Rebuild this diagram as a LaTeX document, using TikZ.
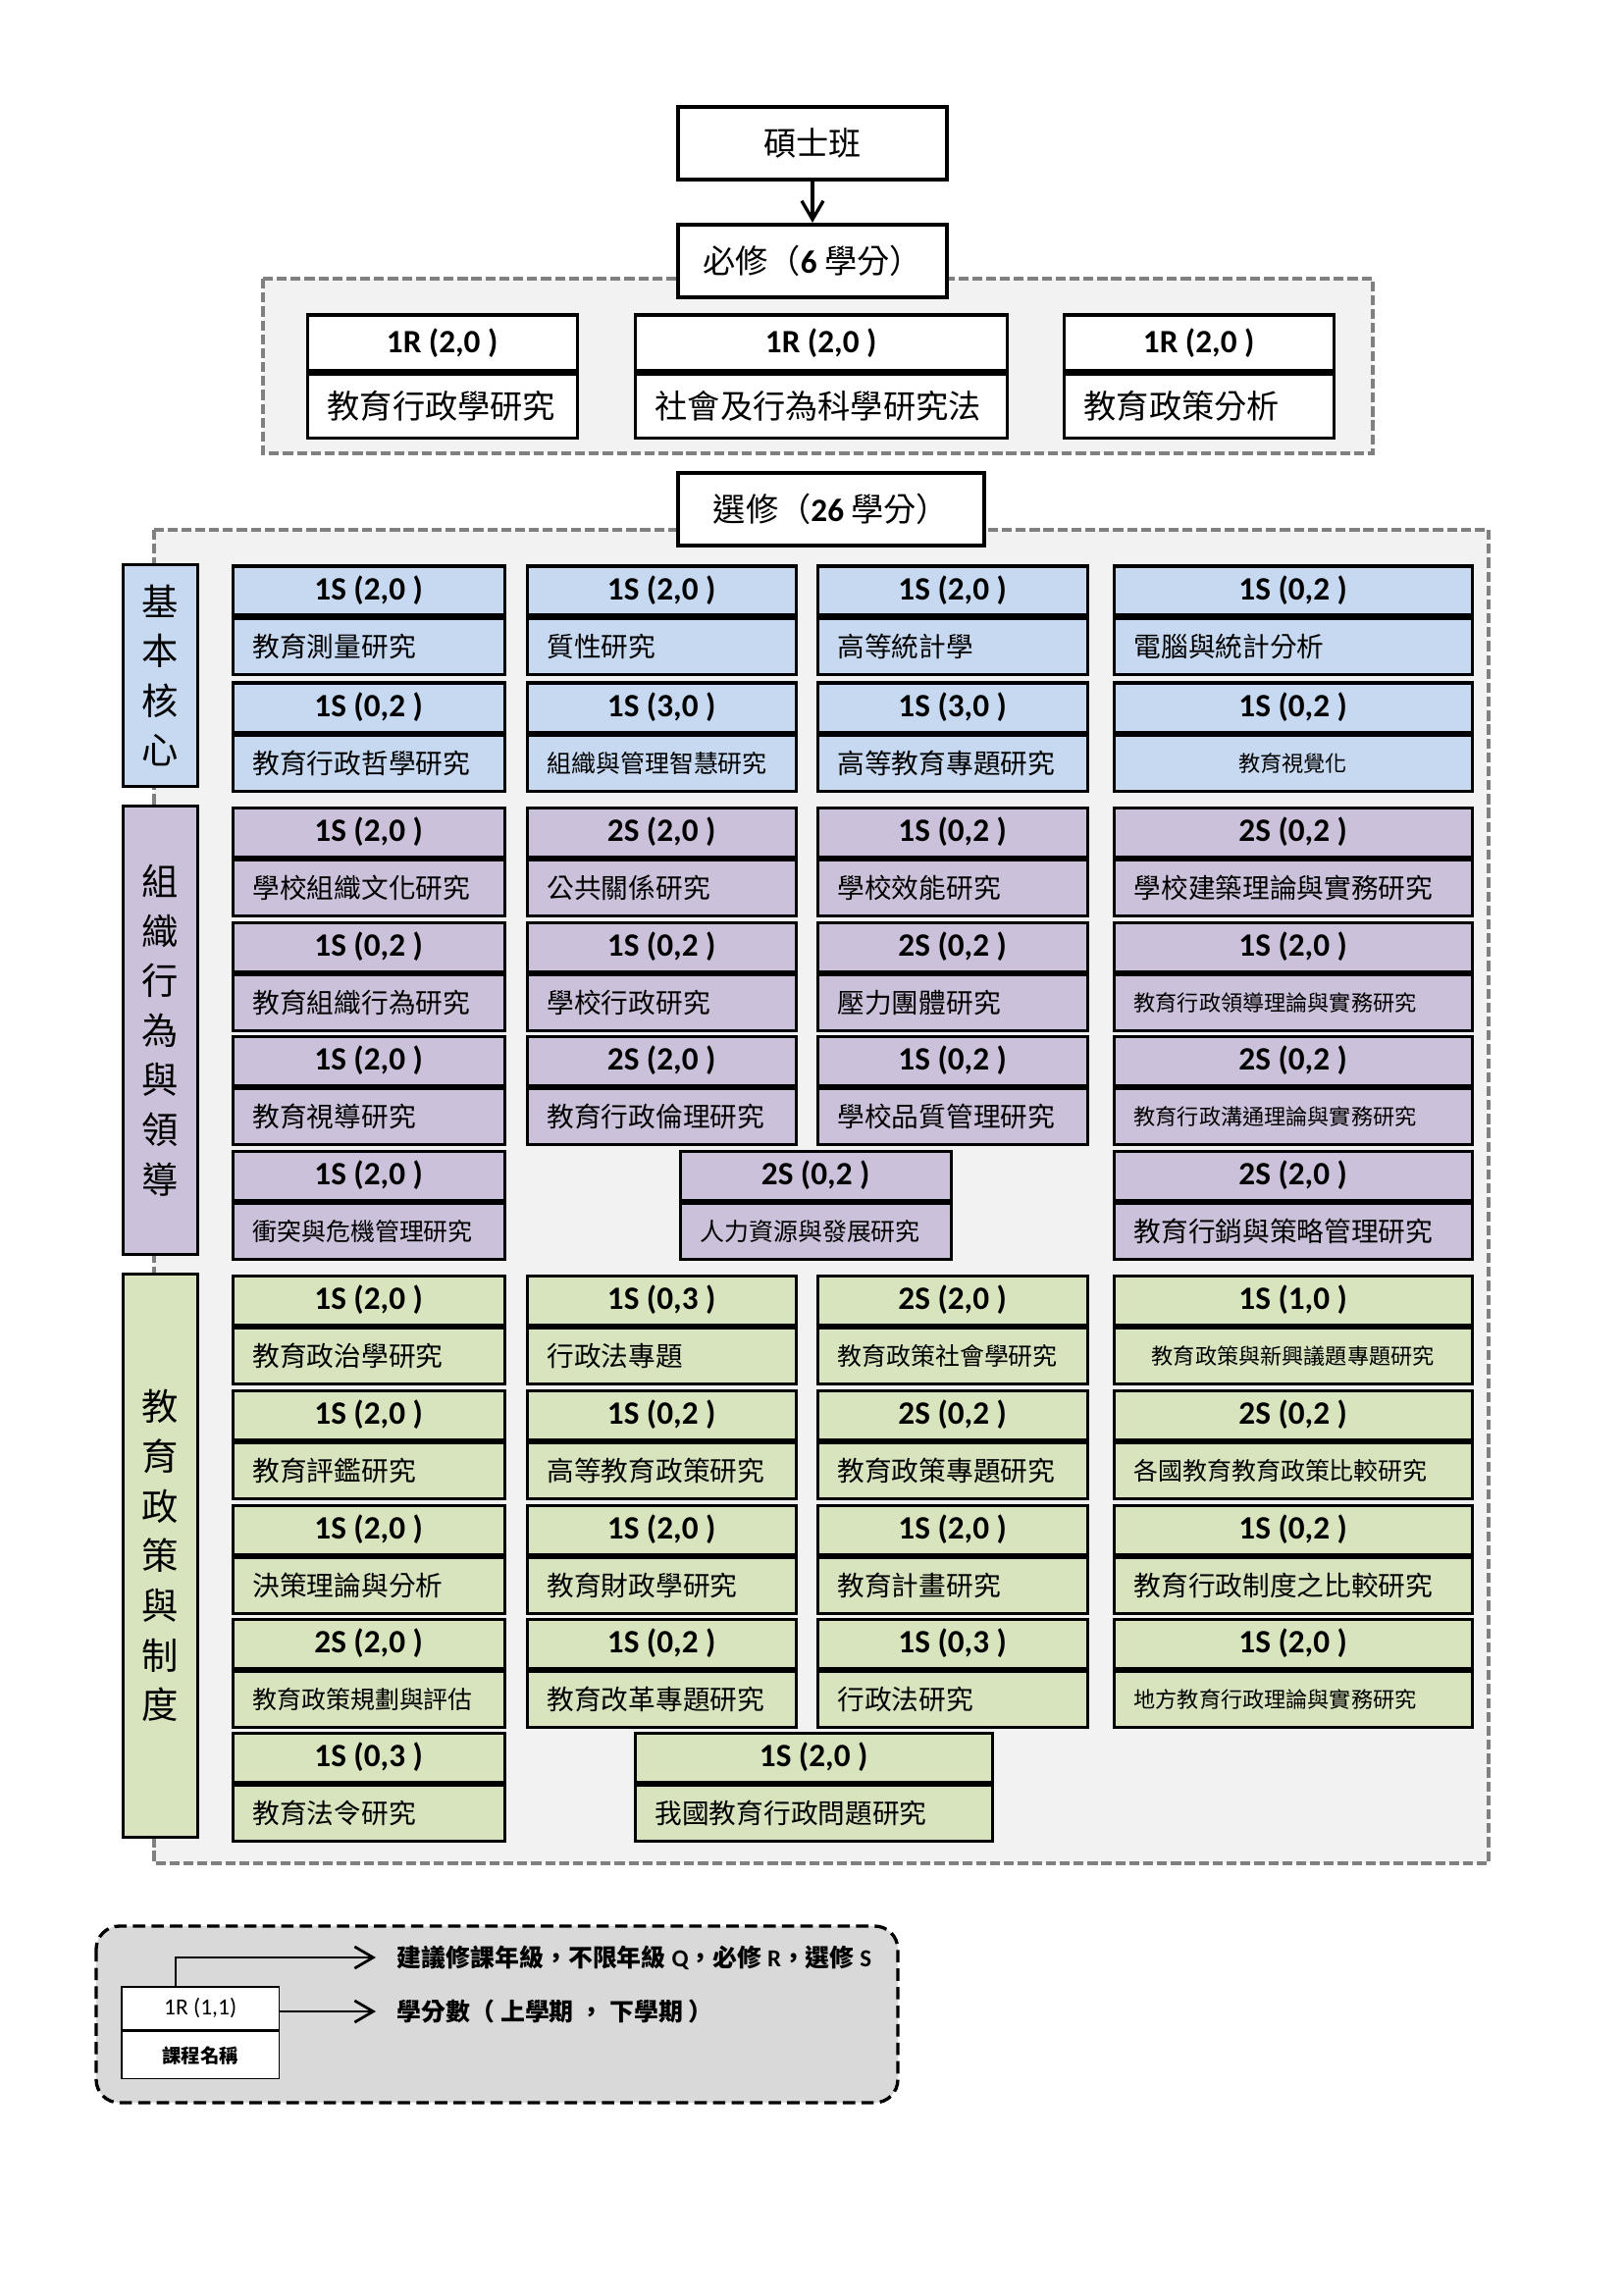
\documentclass[tikz,border=0pt]{standalone}
\usepackage{fontspec}
\setmainfont{Noto Sans CJK TC}
\newfontfamily\latfont{Carlito}
\usetikzlibrary{arrows.meta}

\definecolor{coreblue}{HTML}{C6D9F1}
\definecolor{orgpurple}{HTML}{CCC1DA}
\definecolor{policygreen}{HTML}{D7E4BD}
\definecolor{areafill}{HTML}{F2F2F2}
\definecolor{areadash}{HTML}{808080}
\definecolor{keyfill}{HTML}{D9D9D9}

\newcommand{\fs}[1]{\fontsize{#1}{#1}\selectfont}

\begin{document}
\begin{tikzpicture}[x=0.127mm, y=-0.127mm,
    area/.style={draw=areadash, fill=areafill, line width=1.2pt, dash pattern=on 1.3mm off 0.5mm},
    titlebox/.style={draw, fill=white, line width=1.5pt, inner sep=0pt, font=\fs{12}},
    hd/.style={draw, line width=1.2pt, anchor=north west, inner sep=0pt, minimum height=6.35mm, font=\latfont\bfseries\fs{12}},
    nm/.style={draw, line width=1.2pt, anchor=north west, inner ysep=0pt, inner xsep=2.6mm, minimum height=7.24mm},
    cat/.style={draw, line width=1.2pt, inner sep=0pt, minimum width=9.6mm, align=center, font=\fontsize{13.5}{18.3}\selectfont},
    keybox/.style={draw, fill=keyfill, line width=1.2pt, dash pattern=on 1.6mm off 0.8mm, rounded corners=3mm},
    keycell/.style={draw, fill=white, line width=0.6pt, anchor=north west, inner sep=0pt, minimum width=20.4mm},
    keytext/.style={anchor=west, inner ysep=0pt, inner xsep=2.7mm, font=\bfseries\fs{9}},
    arr/.style={-{Straight Barb[length=2.4mm,width=2.8mm]}, line width=1pt},
]

    \useasboundingbox (0,0) rectangle (1654,2339);

    % dashed areas
    \draw[area] (268,284) rectangle (1399,462);
    \draw[area] (157,540) rectangle (1517,1899);

    % titles
    \node[titlebox, minimum width=34.7mm, minimum height=9.4mm] (master) at (828,146) {碩士班};
    \node[titlebox, minimum width=34.7mm, minimum height=9.4mm] (required) at (828,266) {必修（{\latfont\bfseries 6} 學分）};
    \node[titlebox, minimum width=39.6mm, minimum height=9.4mm] (elective) at (847,519) {選修（{\latfont\bfseries 26} 學分）};
    \draw[arr, line width=1.2pt] (master) -- (required);

    % required courses
    \foreach \x/\w/\nm [count=\i] in {310/278/教育行政學研究, 644/382/社會及行為科學研究法, 1081/278/教育政策分析} {
        \pgfmathsetmacro{\bw}{(\w-3)*0.127}
        \pgfmathsetmacro{\tw}{(\w-3)*0.127-5.2}
        \node[hd, fill=white, minimum width=\bw mm, minimum height=7.2mm] (rh\i) at (\x+1.5,319.5) {1R (2,0 )};
        \node[nm, fill=white, minimum width=\bw mm, minimum height=8.3mm, text width=\tw mm, font=\fs{12}] (rn\i) at (rh\i.south west) {\nm};
    }

    % groups
    \node[cat, fill=coreblue, minimum height=28.7mm] (core) at (163.5,688.5) {基\\本\\核\\心};
    \node[cat, fill=orgpurple, minimum height=58mm] (org) at (163.5,1050) {組\\織\\行\\為\\與\\領\\導};
    \node[cat, fill=policygreen, minimum height=72.9mm] (policy) at (163.5,1585.5) {教\\育\\政\\策\\與\\制\\度};

    % elective courses: column/row/year/credits/credits/size/align/name
    \foreach \cl/\rw/\yr/\ca/\cb/\sz/\al/\nm in {
        1/1/1/2/0/10/left/教育測量研究,
        2/1/1/2/0/10/left/質性研究,
        3/1/1/2/0/10/left/高等統計學,
        4/1/1/0/2/10/left/電腦與統計分析,
        1/2/1/0/2/10/left/教育行政哲學研究,
        2/2/1/3/0/9/left/組織與管理智慧研究,
        3/2/1/3/0/10/left/高等教育專題研究,
        4/2/1/0/2/8/center/教育視覺化,
        1/3/1/2/0/10/left/學校組織文化研究,
        2/3/2/2/0/10/left/公共關係研究,
        3/3/1/0/2/10/left/學校效能研究,
        4/3/2/0/2/10/left/學校建築理論與實務研究,
        1/4/1/0/2/10/left/教育組織行為研究,
        2/4/1/0/2/10/left/學校行政研究,
        3/4/2/0/2/10/left/壓力團體研究,
        4/4/1/2/0/8/left/教育行政領導理論與實務研究,
        1/5/1/2/0/10/left/教育視導研究,
        2/5/2/2/0/10/left/教育行政倫理研究,
        3/5/1/0/2/10/left/學校品質管理研究,
        4/5/2/0/2/8/left/教育行政溝通理論與實務研究,
        1/6/1/2/0/9/left/衝突與危機管理研究,
        5/6/2/0/2/9/left/人力資源與發展研究,
        4/6/2/2/0/10/left/教育行銷與策略管理研究,
        1/7/1/2/0/10/left/教育政治學研究,
        2/7/1/0/3/10/left/行政法專題,
        3/7/2/2/0/9/left/教育政策社會學研究,
        4/7/1/1/0/8/center/教育政策與新興議題專題研究,
        1/8/1/2/0/10/left/教育評鑑研究,
        2/8/1/0/2/10/left/高等教育政策研究,
        3/8/2/0/2/10/left/教育政策專題研究,
        4/8/2/0/2/9/left/各國教育教育政策比較研究,
        1/9/1/2/0/10/left/決策理論與分析,
        2/9/1/2/0/10/left/教育財政學研究,
        3/9/1/2/0/10/left/教育計畫研究,
        4/9/1/0/2/10/left/教育行政制度之比較研究,
        1/10/2/2/0/9/left/教育政策規劃與評估,
        2/10/1/0/2/10/left/教育改革專題研究,
        3/10/1/0/3/10/left/行政法研究,
        4/10/1/2/0/8/left/地方教育行政理論與實務研究,
        1/11/1/0/3/10/left/教育法令研究,
        6/11/1/2/0/10/left/我國教育行政問題研究} {
        \pgfmathsetmacro{\xl}{{234,534,830,1132,690,644}[\cl-1]+1.5}
        \pgfmathsetmacro{\colw}{{280,277,278,368,279,367}[\cl-1]-3}
        \pgfmathsetmacro{\yt}{{574,693,820,937,1053,1170,1297,1414,1531,1647,1763}[\rw-1]+1.5}
        \pgfmathsetmacro{\bw}{\colw*0.127}
        \pgfmathsetmacro{\tw}{\colw*0.127-5.2}
        \ifnum\rw<3 \def\fc{coreblue}\else\ifnum\rw<7 \def\fc{orgpurple}\else\def\fc{policygreen}\fi\fi
        \node[hd, fill=\fc, minimum width=\bw mm] (h\rw-\cl) at (\xl,\yt) {\yr S (\ca,\cb{} )};
        \node[nm, fill=\fc, minimum width=\bw mm, text width=\tw mm, align=\al, font=\fs{\sz}] (n\rw-\cl) at (h\rw-\cl.south west) {\nm};
    }

    % key
    \draw[keybox] (98,1963) rectangle (915,2143);
    \node[keycell, minimum height=5.6mm, font=\latfont\fs{8.5}] (keyhd) at (123,2024) {1R (1,1)};
    \node[keycell, minimum height=6.1mm, font=\bfseries\fs{7}] (keynm) at (keyhd.south west) {課程名稱};
    \node[keytext] (keyyear) at (383,1995) {建議修課年級，不限年級 {\latfont Q}，必修 {\latfont R}，選修 {\latfont S}};
    \node[keytext] (keycred) at (383,2050) {學分數（ 上學期 ， 下學期 ）};
    \draw[arr] ([xshift=7.1mm]keyhd.north west) |- (keyyear.west);
    \draw[arr] (keyhd.east |- keycred.west) -- (keycred.west);

\end{tikzpicture}
\end{document}
